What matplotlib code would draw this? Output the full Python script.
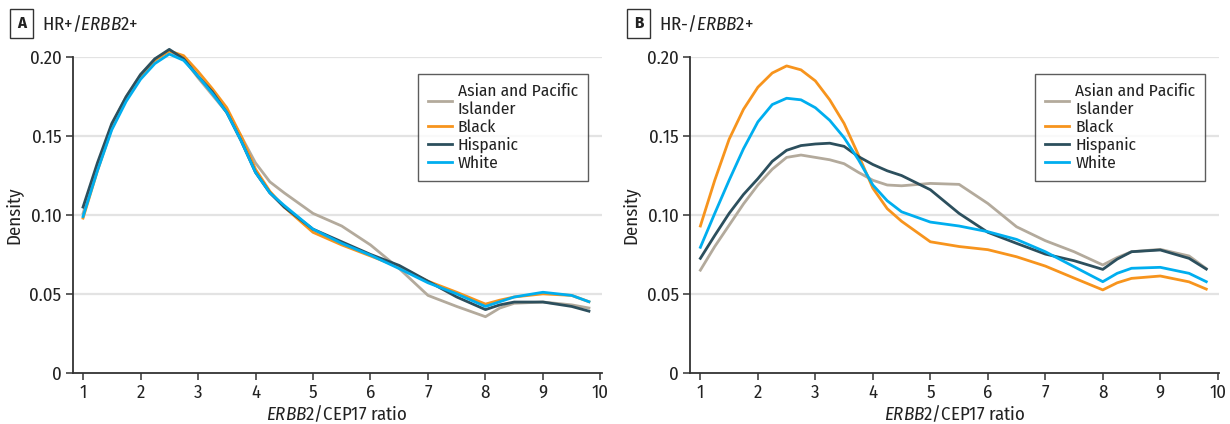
import matplotlib
matplotlib.use("Agg")
import matplotlib.pyplot as plt
from matplotlib import font_manager

names = {f.name for f in font_manager.fontManager.ttflist}
narrow = ['Fira Sans Condensed', 'Roboto Condensed', 'PT Sans Narrow', 'Archivo Narrow',
          'Asap Condensed', 'Encode Sans Condensed', 'Open Sans Condensed', 'Pragati Narrow']
base = next((n for n in narrow if n in names), 'DejaVu Sans')
plt.rcParams['font.family'] = [base, 'DejaVu Sans']
plt.rcParams['mathtext.fontset'] = 'custom'
plt.rcParams['mathtext.rm'] = base
plt.rcParams['mathtext.it'] = base + ':italic'

ratio = [1, 1.25, 1.5, 1.75, 2, 2.25, 2.5, 2.75, 3, 3.25, 3.5, 3.75, 4, 4.25, 4.5,
         5, 5.5, 6, 6.5, 7, 7.5, 8, 8.25, 8.5, 9, 9.5, 9.8]

groups = ['Asian and Pacific\nIslander', 'Black', 'Hispanic', 'White']
colors = ['#b3aa9c', '#f7941d', '#2c4f5d', '#00aeef']

# panel A: HR+/ERBB2+
a_asian = [0.101, 0.130, 0.157, 0.175, 0.189, 0.199, 0.204, 0.199, 0.187, 0.176, 0.165, 0.150, 0.133, 0.121, 0.114,
           0.101, 0.093, 0.081, 0.066, 0.049, 0.042, 0.0355, 0.041, 0.044, 0.0448, 0.043, 0.041]
a_black = [0.098, 0.128, 0.155, 0.174, 0.188, 0.198, 0.204, 0.201, 0.191, 0.180, 0.168, 0.150, 0.129, 0.115, 0.105,
           0.089, 0.081, 0.074, 0.067, 0.058, 0.051, 0.0435, 0.046, 0.048, 0.050, 0.049, 0.045]
a_hisp = [0.105, 0.133, 0.158, 0.175, 0.189, 0.199, 0.205, 0.199, 0.188, 0.178, 0.165, 0.147, 0.127, 0.114, 0.105,
          0.091, 0.083, 0.075, 0.068, 0.058, 0.048, 0.040, 0.043, 0.0448, 0.0448, 0.042, 0.039]
a_white = [0.099, 0.128, 0.154, 0.172, 0.186, 0.196, 0.202, 0.198, 0.188, 0.177, 0.165, 0.147, 0.127, 0.114, 0.106,
           0.091, 0.082, 0.0745, 0.066, 0.057, 0.050, 0.042, 0.045, 0.048, 0.051, 0.049, 0.045]

# panel B: HR-/ERBB2+
b_asian = [0.065, 0.080, 0.0935, 0.107, 0.119, 0.129, 0.1365, 0.138, 0.1365, 0.135, 0.1325, 0.127, 0.122, 0.119, 0.1185,
           0.120, 0.1194, 0.1073, 0.0925, 0.0837, 0.0767, 0.0683, 0.073, 0.0767, 0.0782, 0.074, 0.066]
b_black = [0.093, 0.122, 0.148, 0.167, 0.181, 0.190, 0.1945, 0.192, 0.185, 0.173, 0.158, 0.138, 0.117, 0.104, 0.096,
           0.083, 0.080, 0.078, 0.0735, 0.0676, 0.060, 0.0525, 0.057, 0.0598, 0.0613, 0.0576, 0.053]
b_hisp = [0.0725, 0.087, 0.101, 0.113, 0.123, 0.134, 0.141, 0.144, 0.145, 0.1455, 0.1435, 0.137, 0.132, 0.128, 0.125,
          0.116, 0.101, 0.089, 0.082, 0.0752, 0.071, 0.0655, 0.072, 0.0767, 0.0778, 0.0725, 0.0657]
b_white = [0.0795, 0.101, 0.122, 0.142, 0.159, 0.170, 0.174, 0.173, 0.168, 0.160, 0.149, 0.135, 0.119, 0.109, 0.102,
           0.0955, 0.093, 0.0894, 0.0845, 0.0767, 0.0672, 0.0577, 0.063, 0.0662, 0.0668, 0.063, 0.0577]

panels = [
    ('A', r'HR+/$\mathit{ERBB2}$+', [a_asian, a_black, a_hisp, a_white]),
    ('B', r'HR-/$\mathit{ERBB2}$+', [b_asian, b_black, b_hisp, b_white]),
]

fig = plt.figure(figsize=(12.3, 4.24), dpi=100)
lefts = [0.0591, 0.561]
label_x = [0.0175, 0.519]

for i, (letter, title, series) in enumerate(panels):
    ax = fig.add_axes([lefts[i], 0.121, 0.43, 0.744])
    for yv in [0.05, 0.10, 0.15, 0.20]:
        ax.axhline(yv, color='#e3e3e3', lw=1.6, zorder=0)
    for vals, name, c in zip(series, groups, colors):
        ax.plot(ratio, vals, color=c, lw=2.0, label=name, clip_on=False, zorder=3,
                solid_joinstyle='round')
    ax.set_xlim(0.82, 10.02)
    ax.set_ylim(0, 0.20)
    ax.set_xticks(range(1, 11))
    ax.set_yticks([0, 0.05, 0.10, 0.15, 0.20])
    ax.set_yticklabels(['0', '0.05', '0.10', '0.15', '0.20'])
    for s in ['top', 'right']:
        ax.spines[s].set_visible(False)
    for s in ['left', 'bottom']:
        ax.spines[s].set_color('#333333')
        ax.spines[s].set_linewidth(1.3)
    ax.tick_params(length=5, width=1.1, color='#333333', labelsize=13.5, labelcolor='#222222', pad=3)
    ax.set_xlabel(r'$\mathit{ERBB2}$/CEP17 ratio', fontsize=13.5, color='#222222', labelpad=1)
    ax.set_ylabel('Density', fontsize=13.5, color='#222222', labelpad=5)
    leg = ax.legend(loc='upper left', bbox_to_anchor=(0.653, 0.948), fontsize=12.5, frameon=True,
                    fancybox=False, handlelength=1.4, handletextpad=0.35, labelspacing=0.1,
                    borderpad=0.55, borderaxespad=0)
    leg.get_frame().set_edgecolor('#333333')
    leg.get_frame().set_linewidth(1.0)
    for t in leg.get_texts():
        t.set_color('#222222')
    fig.text(label_x[i], 0.944, letter, fontsize=12, fontweight='bold', ha='center', va='center',
             color='#222222',
             bbox=dict(boxstyle='square,pad=0.4', facecolor='white', edgecolor='#333333', linewidth=1.0))
    fig.text(label_x[i] + 0.017, 0.944, title, fontsize=13.5, ha='left', va='center', color='#222222')

fig.savefig('out.png', dpi=100)
